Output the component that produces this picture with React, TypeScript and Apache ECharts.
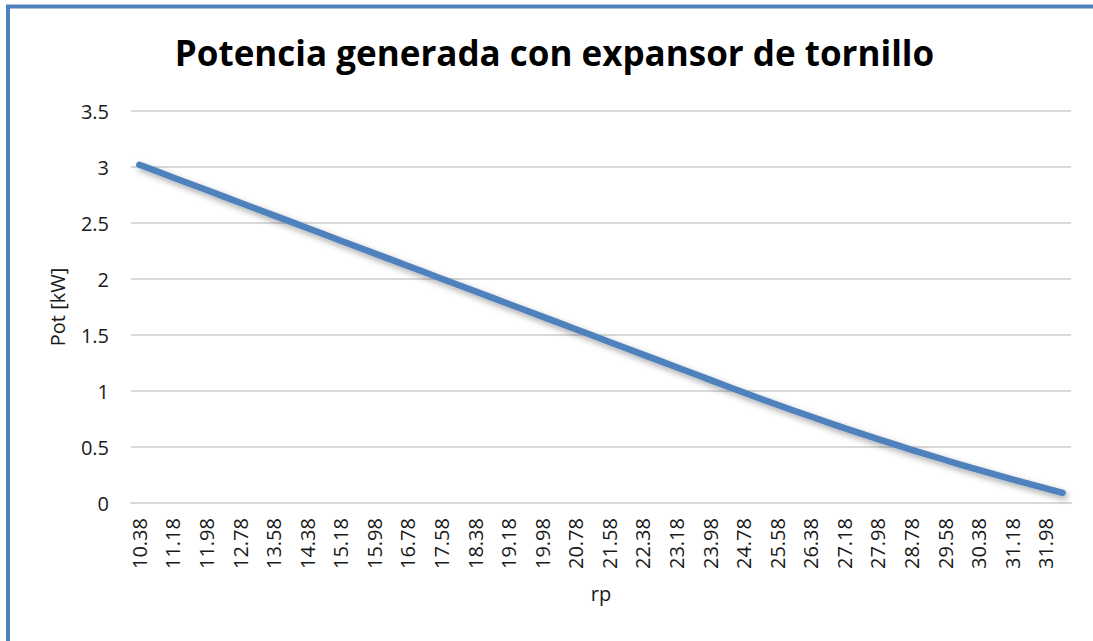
import React, { useEffect, useRef } from "react";
import * as echarts from "echarts";

const TITLE = "Potencia generada con expansor de tornillo";
const Y_NAME = "Pot [kW]";
const X_NAME = "rp";

const rpCategories: string[] = [
  "10.38", "10.78", "11.18", "11.58", "11.98", "12.38", "12.78", "13.18", "13.58", "13.98",
  "14.38", "14.78", "15.18", "15.58", "15.98", "16.38", "16.78", "17.18", "17.58", "17.98",
  "18.38", "18.78", "19.18", "19.58", "19.98", "20.38", "20.78", "21.18", "21.58", "21.98",
  "22.38", "22.78", "23.18", "23.58", "23.98", "24.38", "24.78", "25.18", "25.58", "25.98",
  "26.38", "26.78", "27.18", "27.58", "27.98", "28.38", "28.78", "29.18", "29.58", "29.98",
  "30.38", "30.78", "31.18", "31.58", "31.98", "32.38",
];

const potValues: number[] = [
  3.020, 2.964, 2.907, 2.851, 2.794, 2.738, 2.681, 2.625, 2.568, 2.512,
  2.455, 2.399, 2.342, 2.286, 2.229, 2.173, 2.116, 2.060, 2.003, 1.947,
  1.890, 1.834, 1.777, 1.721, 1.664, 1.608, 1.551, 1.495, 1.438, 1.382,
  1.325, 1.269, 1.212, 1.156, 1.099, 1.043, 0.987, 0.931, 0.877, 0.824,
  0.772, 0.720, 0.669, 0.619, 0.571, 0.523, 0.475, 0.429, 0.384, 0.339,
  0.296, 0.253, 0.211, 0.170, 0.130, 0.091,
];

const Y_MIN = 0;
const Y_MAX = 3.5;
const Y_STEP = 0.5;

const FONT = "'Open Sans', 'Noto Sans', sans-serif";

export default function App() {
  const ref = useRef<HTMLDivElement>(null);

  useEffect(() => {
    if (!ref.current) return;
    const chart = echarts.init(ref.current, undefined, { renderer: "svg" });
    chart.setOption({
      animation: false,
      backgroundColor: "#ffffff",
      textStyle: { fontFamily: FONT },
      graphic: [
        {
          type: "rect",
          silent: true,
          shape: { x: 8, y: 6.5, width: 1300, height: 1000 },
          style: { fill: "none", stroke: "#4f81bd", lineWidth: 4 },
        },
        {
          type: "text",
          x: 554.5,
          y: 52,
          style: {
            text: TITLE,
            fontFamily: FONT,
            fontSize: 35,
            fontWeight: "bold",
            fill: "#000000",
            textAlign: "center",
            textVerticalAlign: "middle",
          },
        },
      ],
      grid: { left: 131, right: 22, top: 111, bottom: 138, containLabel: false },
      xAxis: {
        type: "category",
        data: rpCategories,
        boundaryGap: true,
        name: X_NAME,
        nameLocation: "middle",
        nameGap: 80,
        nameTextStyle: { fontSize: 20, color: "#1a1a1a", fontFamily: FONT },
        axisLine: { show: true, lineStyle: { color: "#d9d9d9", width: 2 } },
        axisTick: { show: false },
        axisLabel: {
          interval: 1,
          rotate: 90,
          margin: 15,
          fontSize: 20,
          color: "#1a1a1a",
          fontFamily: FONT,
        },
        splitLine: { show: false },
      },
      yAxis: {
        type: "value",
        min: Y_MIN,
        max: Y_MAX,
        interval: Y_STEP,
        name: Y_NAME,
        nameLocation: "middle",
        nameGap: 64,
        nameTextStyle: { fontSize: 20, color: "#1a1a1a", fontFamily: FONT },
        axisLine: { show: false },
        axisTick: { show: false },
        axisLabel: {
          margin: 22,
          fontSize: 20,
          color: "#1a1a1a",
          fontFamily: FONT,
        },
        splitLine: { show: true, lineStyle: { color: "#d9d9d9", width: 2 } },
      },
      series: [
        {
          type: "line",
          data: potValues,
          showSymbol: false,
          symbol: "none",
          smooth: false,
          lineStyle: {
            color: "#4f81bd",
            width: 6.5,
            cap: "round",
            join: "round",
            shadowColor: "rgba(0,0,0,0.35)",
            shadowBlur: 6,
            shadowOffsetX: 2,
            shadowOffsetY: 3,
          },
        },
      ],
    });
    return () => chart.dispose();
  }, []);

  return (
    <div
      ref={ref}
      style={{ position: "fixed", left: 0, top: 0, width: 1093, height: 641 }}
    />
  );
}
